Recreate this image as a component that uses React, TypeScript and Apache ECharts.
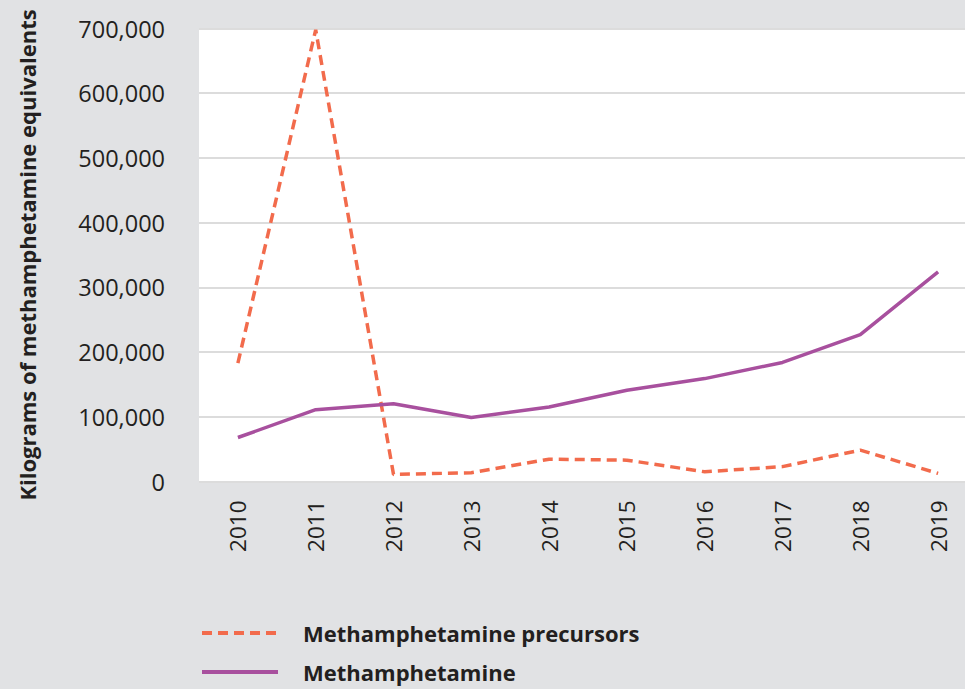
import React, { useEffect, useRef } from "react";
import * as echarts from "echarts";

const years = ["2010", "2011", "2012", "2013", "2014", "2015", "2016", "2017", "2018", "2019"];
const precursors = [183000, 698000, 11000, 13500, 34500, 33000, 15000, 23000, 48500, 12500];
const methamphetamine = [68000, 111000, 120000, 99000, 115000, 141000, 159000, 184000, 227000, 324000];
const yTicks = { min: 0, max: 700000, interval: 100000 };

const FONT = "'Open Sans', sans-serif";
const TEXT = "#231f20";
const ORANGE = "#f26b4c";
const PURPLE = "#a8509e";

export default function App() {
  const ref = useRef<HTMLDivElement>(null);

  useEffect(() => {
    if (!ref.current) return;
    const chart = echarts.init(ref.current, undefined, { renderer: "svg" });
    chart.setOption({
      animation: false,
      backgroundColor: "#e1e2e4",
      textStyle: { fontFamily: FONT },
      grid: {
        left: 199,
        top: 28.5,
        width: 778,
        height: 453,
        show: true,
        backgroundColor: "#ffffff",
        borderWidth: 0,
        containLabel: false,
        outerBoundsMode: "none",
      },
      legend: {
        orient: "vertical",
        left: 200,
        top: 622,
        padding: 0,
        itemGap: 17,
        itemWidth: 76,
        itemHeight: 22,
        // line-only keys: hide the marker the line series adds to its legend icon
        itemStyle: { opacity: 0 },
        lineStyle: { width: 4 },
        textStyle: {
          fontFamily: FONT,
          fontSize: 22,
          fontWeight: "bold",
          color: TEXT,
          padding: [0, 0, 0, 20],
        },
        data: ["Methamphetamine precursors", "Methamphetamine"],
      },
      xAxis: {
        type: "category",
        data: years,
        boundaryGap: true,
        axisLine: { show: false },
        axisTick: { show: false },
        axisLabel: {
          rotate: 90,
          margin: 19,
          fontSize: 22.5,
          color: TEXT,
          fontFamily: FONT,
        },
      },
      yAxis: {
        type: "value",
        min: yTicks.min,
        max: yTicks.max,
        interval: yTicks.interval,
        name: "Kilograms of methamphetamine equivalents",
        nameLocation: "middle",
        nameGap: 161,
        nameTextStyle: {
          fontSize: 22,
          fontWeight: "bold",
          color: TEXT,
          fontFamily: FONT,
        },
        axisLine: { show: false },
        axisTick: { show: false },
        axisLabel: {
          margin: 34,
          fontSize: 23.5,
          color: TEXT,
          fontFamily: FONT,
          formatter: (v: number) => v.toLocaleString("en-US"),
        },
        splitLine: { lineStyle: { color: "#dcdcdc", width: 2 } },
      },
      series: [
        {
          name: "Methamphetamine precursors",
          type: "line",
          data: precursors,
          symbol: "none",
          itemStyle: { color: ORANGE },
          lineStyle: { color: ORANGE, width: 3.5, type: [10, 6] },
        },
        {
          name: "Methamphetamine",
          type: "line",
          data: methamphetamine,
          symbol: "none",
          itemStyle: { color: PURPLE },
          lineStyle: { color: PURPLE, width: 3.5 },
        },
      ],
    });
    return () => chart.dispose();
  }, []);

  return (
    <div
      ref={ref}
      style={{ position: "fixed", left: 0, top: 0, width: 965, height: 689 }}
    />
  );
}
